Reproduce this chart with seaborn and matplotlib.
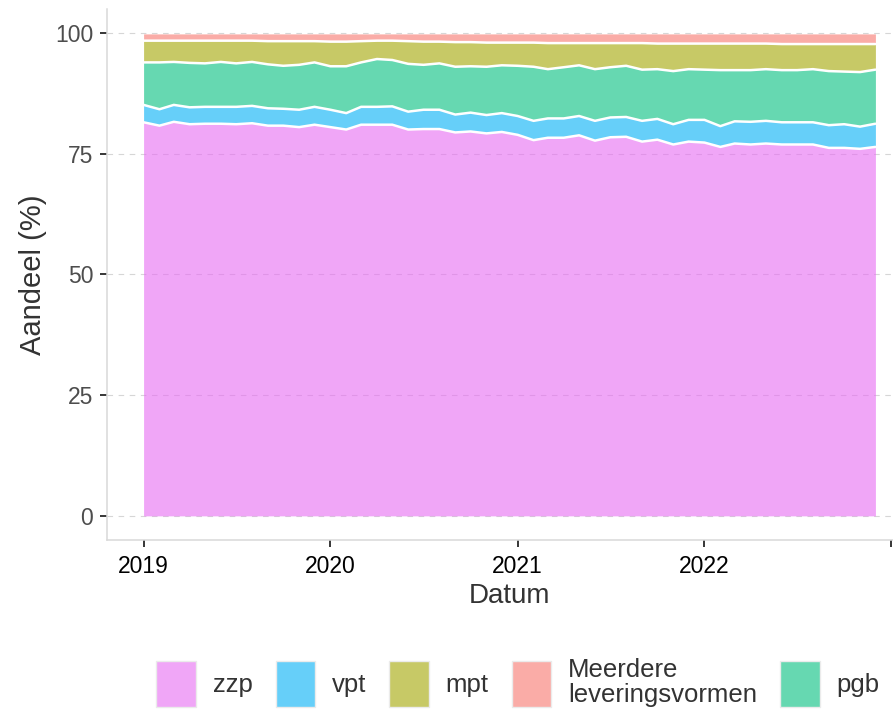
import numpy as np
import pandas as pd
import matplotlib
matplotlib.use("Agg")
import matplotlib.pyplot as plt
from matplotlib.colors import to_rgba
from matplotlib.patches import Patch
import seaborn as sns

# ── data: monthly share (%) per delivery form, Jan 2019 - Dec 2022 ──
months = pd.date_range("2019-01-01", "2022-12-01", freq="MS")

zzp = [81.5, 80.8, 81.6, 81.1, 81.2, 81.2, 81.1, 81.3, 80.8, 80.8, 80.5, 81.0,
       80.5, 80.0, 81.0, 81.0, 81.0, 80.0, 80.1, 80.1, 79.4, 79.6, 79.2, 79.5,
       78.9, 77.8, 78.3, 78.3, 78.8, 77.7, 78.4, 78.5, 77.5, 77.9, 76.9, 77.5,
       77.3, 76.4, 77.1, 76.9, 77.1, 76.9, 76.9, 76.9, 76.2, 76.2, 76.0, 76.4]
vpt = [3.6, 3.4, 3.5, 3.5, 3.5, 3.5, 3.6, 3.6, 3.6, 3.5, 3.6, 3.7,
       3.6, 3.4, 3.7, 3.7, 3.8, 3.7, 4.0, 4.0, 3.7, 3.9, 3.8, 3.9,
       3.9, 4.0, 4.0, 4.0, 4.0, 4.1, 4.1, 4.1, 4.3, 4.3, 4.2, 4.5,
       4.7, 4.3, 4.6, 4.7, 4.7, 4.6, 4.6, 4.6, 4.7, 4.9, 4.6, 4.8]
pgb = [8.8, 9.7, 8.9, 9.2, 9.0, 9.3, 9.0, 9.1, 9.1, 8.9, 9.3, 9.2,
       9.0, 9.7, 9.2, 9.9, 9.6, 9.9, 9.3, 9.6, 9.9, 9.6, 10.0, 9.9,
       10.4, 11.2, 10.2, 10.6, 10.5, 10.7, 10.4, 10.6, 10.6, 10.3, 11.0, 10.5,
       10.4, 11.6, 10.6, 10.7, 10.7, 10.8, 10.8, 11.0, 11.2, 10.9, 11.3, 11.2]
mpt = [4.5, 4.5, 4.4, 4.6, 4.7, 4.4, 4.7, 4.4, 4.8, 5.1, 4.9, 4.4,
       5.1, 5.1, 4.4, 3.8, 4.0, 4.7, 4.8, 4.5, 5.1, 5.0, 5.0, 4.7,
       4.8, 5.0, 5.4, 5.0, 4.6, 5.4, 5.0, 4.7, 5.5, 5.3, 5.7, 5.3,
       5.4, 5.5, 5.5, 5.5, 5.3, 5.4, 5.4, 5.2, 5.6, 5.7, 5.8, 5.3]
meerdere = [1.4, 1.4, 1.4, 1.4, 1.4, 1.4, 1.4, 1.4, 1.5, 1.5, 1.5, 1.5,
            1.6, 1.6, 1.5, 1.4, 1.4, 1.5, 1.6, 1.6, 1.7, 1.7, 1.8, 1.8,
            1.8, 1.8, 1.9, 1.9, 1.9, 1.9, 1.9, 1.9, 1.9, 2.0, 2.0, 2.0,
            2.0, 2.0, 2.0, 2.0, 2.0, 2.1, 2.1, 2.1, 2.1, 2.1, 2.1, 2.1]

# stacking order (bottom -> top) and legend order
stack_order = ["zzp", "vpt", "pgb", "mpt", "Meerdere\nleveringsvormen"]
legend_order = ["zzp", "vpt", "mpt", "Meerdere\nleveringsvormen", "pgb"]
colors = {
    "Meerdere\nleveringsvormen": "#F8766D",
    "mpt": "#A3A500",
    "pgb": "#00BF7D",
    "vpt": "#00B0F6",
    "zzp": "#E76BF3",
}
ALPHA = 0.6

df = pd.DataFrame({
    "Datum": months,
    "zzp": zzp,
    "vpt": vpt,
    "pgb": pgb,
    "mpt": mpt,
    "Meerdere\nleveringsvormen": meerdere,
}).set_index("Datum")

# ── style ──
sns.set_theme(style="white")
plt.rcParams["font.family"] = ["Liberation Sans", "DejaVu Sans"]

fig = plt.figure(figsize=(8.93, 7.15), dpi=100)
ax = fig.add_axes([107 / 893, 175 / 715, 805 / 893, 531.2 / 715])

# dashed horizontal gridlines (behind the translucent areas)
for yv in [0, 25, 50, 75, 100]:
    ax.axhline(yv, color="#D6D6D6", lw=0.8, ls=(0, (5, 5)), zorder=0)

cum = df[stack_order].cumsum(axis=1)
lower = np.zeros(len(df))
for name in stack_order:
    upper = cum[name].to_numpy()
    ax.fill_between(df.index, lower, upper, color=colors[name], alpha=ALPHA,
                    lw=0, zorder=1)
    lower = upper
# white separating lines on top of each layer
for name in stack_order[:-1]:
    sns.lineplot(x=df.index, y=cum[name].to_numpy(), color="white", lw=1.8,
                 ax=ax, zorder=2)

# ── axes ──
span = df.index[-1] - df.index[0]
ax.set_xlim(df.index[0] - span * 0.05, df.index[-1] + span * 0.05)
ax.set_ylim(-5, 105)
ax.set_yticks([0, 25, 50, 75, 100])
xt = pd.to_datetime(["2019-01-01", "2020-01-01", "2021-01-01", "2022-01-01", "2023-01-01"])
ax.set_xticks(xt)
ax.set_xticklabels(["2019", "2020", "2021", "2022", ""])

for side in ["top", "right"]:
    ax.spines[side].set_visible(False)
for side in ["left", "bottom"]:
    ax.spines[side].set_color("#D9D9D9")
    ax.spines[side].set_linewidth(1.1)

ax.tick_params(axis="both", which="major", length=5, width=1.1, color="black",
               labelsize=16.5, bottom=True, left=True)
ax.tick_params(axis="y", pad=5, labelcolor="#4D4D4D")
ax.tick_params(axis="x", pad=6, labelcolor="black")

ax.set_xlabel("Datum", fontsize=20, color="#333333")
ax.set_ylabel("Aandeel (%)", fontsize=21, color="#333333")
ax.xaxis.set_label_coords(0.5, -0.105)
ax.xaxis.label.set_va("center")
ax.yaxis.set_label_coords(-0.092, 0.5)
ax.yaxis.label.set_va("center")

# ── legend ──
handles = [Patch(facecolor=to_rgba(colors[n], ALPHA), edgecolor="#EBEBEB", lw=1)
           for n in legend_order]
leg = fig.legend(handles, legend_order, loc="center", ncol=5, frameon=False,
                 bbox_to_anchor=(0.58, 0.046), fontsize=18.5,
                 handlelength=1.54, handleheight=2.38, handletextpad=0.65,
                 columnspacing=0.9, borderpad=0.2)
for t in leg.get_texts():
    t.set_color("#333333")
    t.set_linespacing(1.05)

fig.savefig("out.png", dpi=100)
